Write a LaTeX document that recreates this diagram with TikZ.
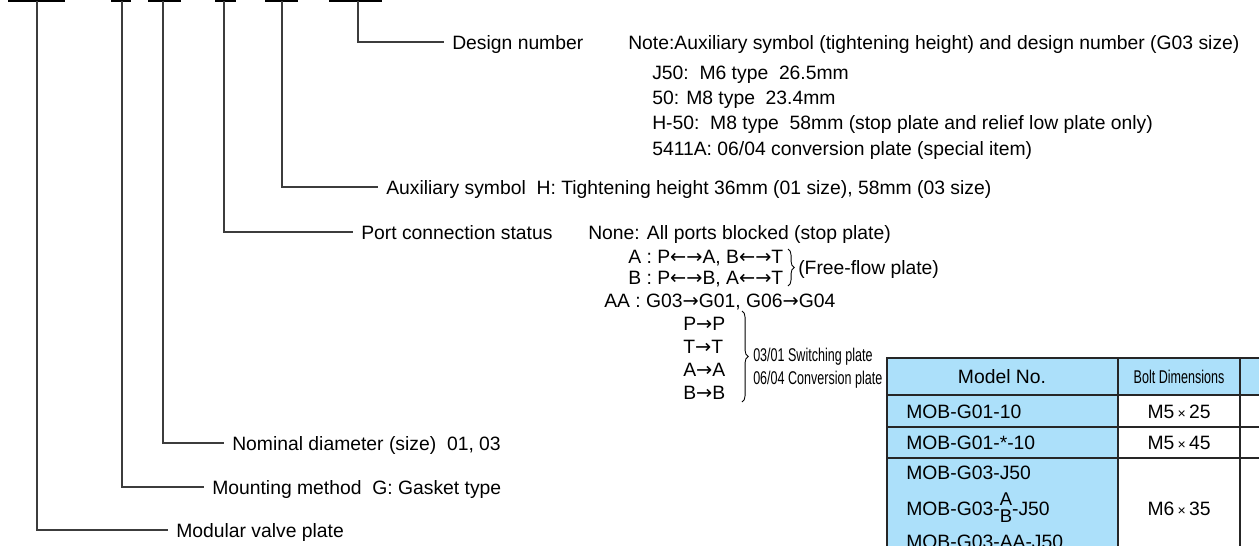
\documentclass[tikz,border=0pt]{standalone}
\usepackage{fontspec}
\setmainfont{Liberation Sans}
\newfontfamily\condfont[FakeStretch=0.68]{Liberation Sans}
\newfontfamily\arrowfont{DejaVu Sans}
\usetikzlibrary{positioning, calc, decorations.pathreplacing}
\definecolor{cellblue}{RGB}{172, 224, 250}
\definecolor{leadgray}{RGB}{60, 60, 60}
\newcommand{\rarr}{{\arrowfont →}}
\newcommand{\larr}{{\arrowfont ←}}
\newcommand{\stackAB}{{\fontsize{10.5}{10.5}\selectfont\renewcommand{\arraystretch}{0.8}\begin{tabular}[c]{@{}c@{}}A\\B\end{tabular}}}

\begin{document}
\begin{tikzpicture}[
  x=0.02cm, y=-0.02cm,
  lbl/.style={anchor=west, inner xsep=4.5pt, inner ysep=0pt, text height=8pt, text depth=0pt,
              font=\fontsize{11}{13}\selectfont},
  cond/.style={lbl, font=\condfont\fontsize{10.5}{12}\selectfont},
  cell/.style={inner sep=0pt, text height=8pt, text depth=0pt, font=\fontsize{11}{13}\selectfont},
  bar/.style={line width=1.2pt},
  lead/.style={line width=0.6pt, leadgray},
  grid/.style={line width=0.8pt, black!85},
  curly/.style={decorate, decoration={brace, amplitude=3.5pt}, line width=0.5pt}
]
  \useasboundingbox (0,0) rectangle (1259,545);
  \clip (0,0) rectangle (1259,545);

  \foreach \a/\b/\m/\n in {8/65/37/1, 111/131/122/2, 148/181/163/3, 215/236/224/4, 265/298/282/5, 329/382/358/6} {
    \draw[bar] (\a,1) -- (\b,1);
    \coordinate (s\n) at (\m,1);
  }

  \node[lbl] (design) at (444,42) {Design number};
  \node[lbl] (note) at (620,42) {Note:Auxiliary symbol (tightening height) and design number (G03 size)};
  \node[lbl] (dj50) at (644,72) {J50:\ \ M6 type\ \ 26.5mm};
  \node[lbl] (d50) at (644,97) {50: M8 type\ \ 23.4mm};
  \node[lbl] (dh50) at (644,122) {H-50:\ \ M8 type\ \ 58mm (stop plate and relief low plate only)};
  \node[lbl] (d5411) at (644,148) {5411A: 06/04 conversion plate (special item)};
  \node[lbl] (aux) at (378,187) {Auxiliary symbol\ \ H: Tightening height 36mm (01 size), 58mm (03 size)};
  \node[lbl] (port) at (353,232) {Port connection status};
  \node[lbl] (pnone) at (580,232) {None: All ports blocked (stop plate)};
  \node[lbl] (pa) at (620,256) {A : P\larr\rarr A, B\larr\rarr T};
  \node[lbl] (pb) at (620,277) {B : P\larr\rarr B, A\larr\rarr T};
  \node[lbl] (free) at (790,267) {(Free-flow plate)};
  \node[lbl] (paa) at (596,300) {AA : G03\rarr G01, G06\rarr G04};
  \foreach \p [count=\i] in {P,T,A,B}
    \node[lbl] (sw\i) at (675,300+23*\i) {\p\rarr\p};
  \node[cond] (swplate) at (745,354) {03/01 Switching plate};
  \node[cond] (cvplate) at (745,377) {06/04 Conversion plate};
  \node[lbl] (nominal) at (224,443) {Nominal diameter (size)\ \ 01, 03};
  \node[lbl] (mount) at (204,487) {Mounting method\ \ G: Gasket type};
  \node[lbl] (modular) at (168,530) {Modular valve plate};

  \draw[lead] (s6) |- (design.west);
  \draw[lead] (s5) |- (aux.west);
  \draw[lead] (s4) |- (port.west);
  \draw[lead] (s3) |- (nominal.west);
  \draw[lead] (s2) |- (mount.west);
  \draw[lead] (s1) |- (modular.west);

  \draw[curly] (788,249) -- (788,286);
  \draw[curly] (742,311) -- (742,402);

  \fill[cellblue] (887,358) rectangle (1118,560);
  \fill[cellblue] (1118,358) rectangle (1270,395);
  \draw[grid] (887,560) -- (887,358) -- (1270,358);
  \foreach \y in {395,427,458}
    \draw[grid] (887,\y) -- (1270,\y);
  \foreach \x in {1118,1240}
    \draw[grid] (\x,358) -- (\x,560);

  \node[cell] (hmodel) at (1002,376) {Model No.};
  \node[cell, font=\condfont\fontsize{10.5}{12}\selectfont] (hbolt) at (1179,376) {Bolt Dimensions};
  \node[cell, anchor=west] (m1) at (906,411) {MOB-G01-10};
  \node[cell, anchor=west] (m2) at (906,442) {MOB-G01-*-10};
  \node[cell, anchor=west] (m3) at (906,472) {MOB-G03-J50};
  \node[cell, anchor=west] (m4) at (906,508) {MOB-G03-\stackAB-J50};
  \node[cell, anchor=west] (m5) at (906,541) {MOB-G03-AA-J50};
  \node[cell] (b1) at (1179,411) {M5\,{\footnotesize×}\,25};
  \node[cell] (b2) at (1179,442) {M5\,{\footnotesize×}\,45};
  \node[cell] (b3) at (1179,508) {M6\,{\footnotesize×}\,35};
\end{tikzpicture}
\end{document}
